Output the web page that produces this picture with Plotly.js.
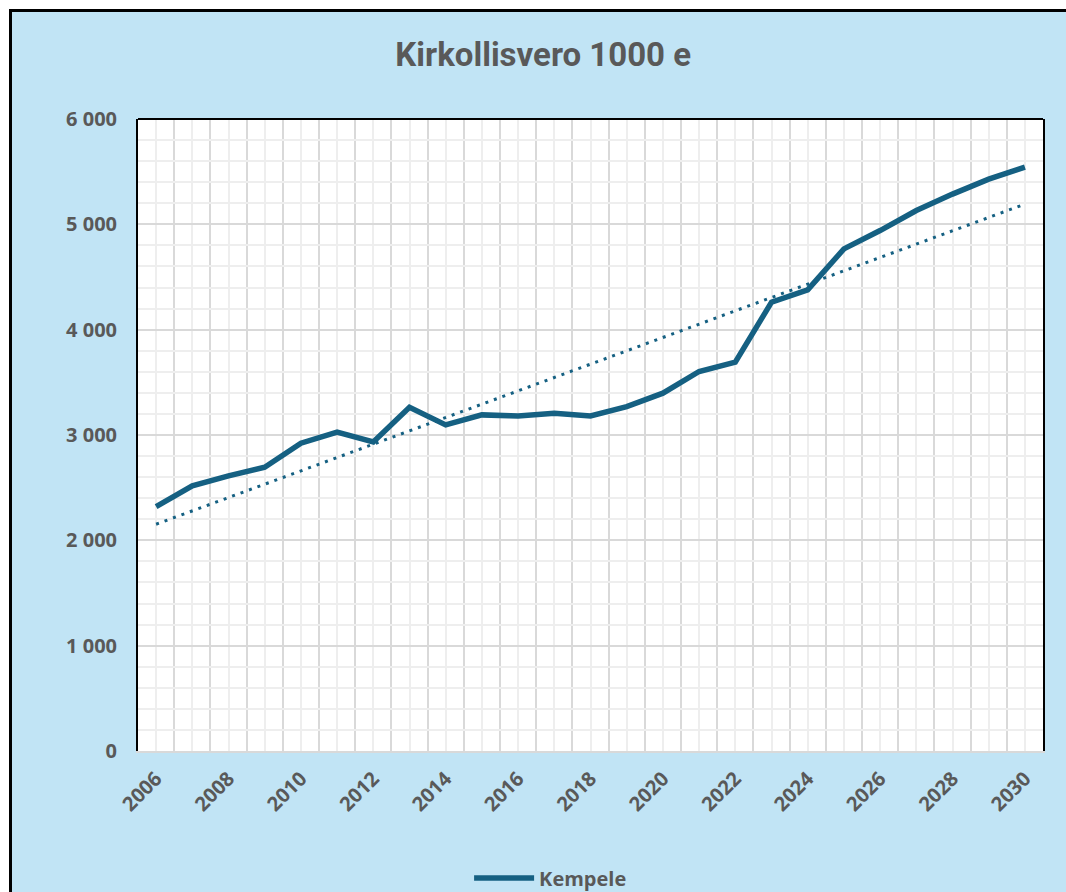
<!DOCTYPE html>
<html>
<head>
<meta charset="utf-8">
<script src="https://cdn.plot.ly/plotly-3.0.1.min.js"></script>
<style>
  html, body { margin: 0; padding: 0; background: #ffffff; overflow: hidden; }
  #frame { position: fixed; left: 9px; top: 9px; right: 0; bottom: 0;
           border-left: 3px solid #000; border-top: 3px solid #000; background: #c1e4f5; overflow: hidden; }
  #chart { position: absolute; left: 0; top: 0; width: 1054px; height: 880px; }
</style>
</head>
<body>
<div id="frame"><div id="chart"></div></div>
<script>
// ---- data ----
const years = [2006, 2007, 2008, 2009, 2010, 2011, 2012, 2013, 2014, 2015, 2016, 2017, 2018,
               2019, 2020, 2021, 2022, 2023, 2024, 2025, 2026, 2027, 2028, 2029, 2030];
const kempele = [2320, 2517, 2612, 2694, 2922, 3027, 2934, 3264, 3096, 3191, 3181, 3207, 3181,
                 3270, 3397, 3603, 3691, 4261, 4378, 4767, 4941, 5131, 5287, 5429, 5543];
const trendYears = [2006, 2030];
const trendValues = [2153, 5192];
const tickLabels = ['2006', '', '2008', '', '2010', '', '2012', '', '2014', '', '2016', '', '2018',
                    '', '2020', '', '2022', '', '2024', '', '2026', '', '2028', '', '2030'];
const seriesName = 'Kempele';
const chartTitle = 'Kirkollisvero 1000 e';

const grey = '#595959';
const lineColor = '#156082';
const tickFont = { family: 'Open Sans, Liberation Sans, sans-serif', size: 20, color: grey, weight: 'bold' };

const traces = [
  { x: trendYears, y: trendValues, type: 'scatter', mode: 'lines',
    line: { color: lineColor, width: 3, dash: '3px,6px' }, showlegend: false, hoverinfo: 'skip' },
  { x: years, y: kempele, type: 'scatter', mode: 'lines', name: seriesName,
    line: { color: lineColor, width: 5.5 } }
];

const layout = {
  width: 1054, height: 880,
  paper_bgcolor: '#c1e4f5', plot_bgcolor: '#ffffff',
  margin: { l: 126, r: 23, t: 107, b: 141 },
  separators: ', ',
  title: { text: chartTitle, x: 0.504, xref: 'container', y: 0.952, yref: 'container',
           xanchor: 'center', yanchor: 'middle',
           font: { family: 'Roboto, sans-serif', size: 33, color: grey, weight: 'bold' } },
  xaxis: {
    type: 'linear', range: [2005.5, 2030.5], fixedrange: true,
    tickmode: 'array', tickvals: years, ticktext: tickLabels, tickangle: -45,
    tickfont: tickFont, ticks: '', ticklabelstandoff: 6,
    showgrid: true, gridcolor: '#eeeeee', gridwidth: 2,
    minor: { tickmode: 'linear', tick0: 2005.5, dtick: 1, showgrid: true, gridcolor: '#d9d9d9', gridwidth: 2, ticks: '' },
    showline: true, linecolor: '#d9d9d9', linewidth: 2, zeroline: false
  },
  yaxis: {
    range: [0, 6000], fixedrange: true, tickmode: 'linear', tick0: 0, dtick: 1000,
    separatethousands: true, tickfont: tickFont, ticks: '', ticklabelstandoff: 15,
    showgrid: true, gridcolor: '#d9d9d9', gridwidth: 2,
    minor: { tickmode: 'linear', tick0: 0, dtick: 200, showgrid: true, gridcolor: '#eeeeee', gridwidth: 2, ticks: '' },
    showline: true, linecolor: '#000000', linewidth: 2, mirror: true, zeroline: false
  },
  shapes: [
    { type: 'line', xref: 'paper', yref: 'paper', x0: 0, x1: 1, y0: 1, y1: 1,
      line: { color: '#000000', width: 2 }, layer: 'above' }
  ],
  showlegend: true,
  legend: { orientation: 'h', xref: 'container', yref: 'container', x: 0.511, y: 0.016,
            xanchor: 'center', yanchor: 'middle', bgcolor: 'rgba(0,0,0,0)', itemwidth: 60,
            font: { family: 'Open Sans, Liberation Sans, sans-serif', size: 20, color: grey, weight: 'bold' } }
};

Plotly.newPlot('chart', traces, layout, { displayModeBar: false, staticPlot: true });
</script>
</body>
</html>
